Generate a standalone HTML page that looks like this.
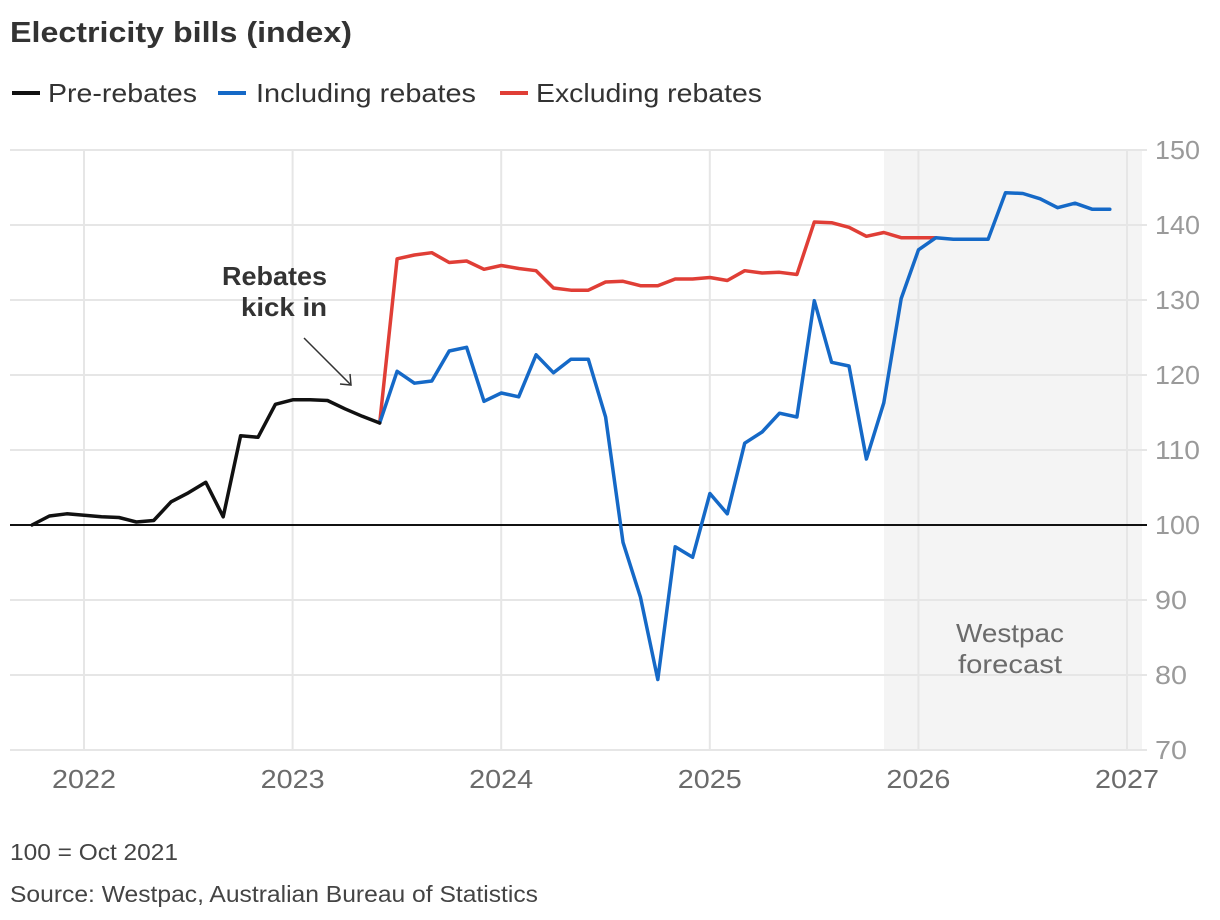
<!DOCTYPE html>
<html><head><meta charset="utf-8">
<style>
body{margin:0;background:#fff;width:1220px;height:920px;overflow:hidden;font-family:"Liberation Sans",sans-serif}
svg{display:block}
</style></head>
<body>
<svg id="chart" width="1220" height="920" viewBox="0 0 1220 920" xmlns="http://www.w3.org/2000/svg">
<text x="10" y="42" font-size="29" font-weight="bold" fill="#333" textLength="342" lengthAdjust="spacingAndGlyphs">Electricity bills (index)</text>
<g font-size="26" fill="#333">
 <g><line x1="12" y1="93" x2="40" y2="93" stroke="#111" stroke-width="4"/><text x="48" y="102" textLength="149" lengthAdjust="spacingAndGlyphs">Pre-rebates</text></g>
 <g><line x1="218" y1="93" x2="246" y2="93" stroke="#1569c7" stroke-width="4"/><text x="256" y="102" textLength="220" lengthAdjust="spacingAndGlyphs">Including rebates</text></g>
 <g><line x1="500" y1="93" x2="528" y2="93" stroke="#e03e36" stroke-width="4"/><text x="536" y="102" textLength="226" lengthAdjust="spacingAndGlyphs">Excluding rebates</text></g>
</g>
<rect x="884" y="150" width="258" height="600" fill="#f4f4f4"/>
<g id="grid"></g>
<g id="axes"></g>
<g font-size="26" fill="#6b6b6b">
 <text x="956" y="642" textLength="108" lengthAdjust="spacingAndGlyphs">Westpac</text>
 <text x="958" y="673" textLength="104" lengthAdjust="spacingAndGlyphs">forecast</text>
</g>
<g id="series"></g>
<g font-size="26" font-weight="bold" fill="#333">
 <text x="222" y="285" textLength="105" lengthAdjust="spacingAndGlyphs">Rebates</text>
 <text x="241" y="316" textLength="86" lengthAdjust="spacingAndGlyphs">kick in</text>
 <line x1="304" y1="338" x2="350" y2="384" stroke="#333" stroke-width="1.5"/>
 <polyline points="340,384 351,385 350,374" fill="none" stroke="#333" stroke-width="1.5"/>
</g>
<text x="10" y="860" font-size="23" fill="#444" textLength="168" lengthAdjust="spacingAndGlyphs">100 = Oct 2021</text>
<text x="10" y="902" font-size="23" fill="#444" textLength="528" lengthAdjust="spacingAndGlyphs">Source: Westpac, Australian Bureau of Statistics</text>
</svg>
<script>
// monthly data starting Oct 2021
const yTicks = [70,80,90,100,110,120,130,140,150];
const xTickLabels = ["2022","2023","2024","2025","2026","2027"];
const preRebates = [100,101.2,101.5,101.3,101.1,101.0,100.4,100.6,103.1,104.3,105.7,101.1,111.9,111.7,116.1,116.7,116.7,116.6,115.5,114.5,113.6];
const includingRebates = [113.6,120.5,118.9,119.2,123.2,123.7,116.5,117.6,117.1,122.7,120.3,122.1,122.1,114.4,97.7,90.4,79.4,97.1,95.7,104.2,101.5,110.9,112.4,114.9,114.4,129.9,121.7,121.2,108.8,116.3,130.2,136.7,138.3,138.1,138.1,138.1,144.3,144.2,143.5,142.3,142.9,142.1,142.1];
const excludingRebates = [113.6,135.5,136.0,136.3,135.0,135.2,134.1,134.6,134.2,133.9,131.6,131.3,131.3,132.4,132.5,131.9,131.9,132.8,132.8,133.0,132.6,133.9,133.6,133.7,133.4,140.4,140.3,139.7,138.5,139.0,138.3,138.3,138.3];
const preStart = 0, rebStart = 20; // month offsets from Oct 2021

const NS="http://www.w3.org/2000/svg";
const x0=32, mw=(1127-84)/60;
const xM = m => x0 + m*mw;
const xYear = i => 84 + i*12*mw;
const yV = v => 150 + (150 - v)*7.5;
function mk(tag, attrs, parent){const e=document.createElementNS(NS,tag);for(const k in attrs)e.setAttribute(k,attrs[k]);parent.appendChild(e);return e;}
const grid=document.getElementById('grid'), axes=document.getElementById('axes'), series=document.getElementById('series');
yTicks.forEach(v=>{
  const l=mk('line',{x1:10,x2:1147,y1:yV(v),y2:yV(v),stroke:'#e6e6e6','stroke-width':2},grid);
  
  
  const w = String(v).length===3 ? 45 : 32;
  const t=mk('text',{x:1155,y:yV(v)+9,'font-size':26,fill:'#9a9a9a',textLength:w,lengthAdjust:'spacingAndGlyphs'},axes);
  t.textContent=v;
  
  
});
xTickLabels.forEach((lab,i)=>{
  const l=mk('line',{x1:xYear(i),x2:xYear(i),y1:150,y2:750,stroke:'#e6e6e6','stroke-width':2},grid);
  
  
  const t=mk('text',{x:xYear(i)-32,y:788,'font-size':26,fill:'#6b6b6b',textLength:64,lengthAdjust:'spacingAndGlyphs'},axes);
  t.textContent=lab;
  
  
});
const base=mk('line',{x1:10,x2:1147,y1:yV(100),y2:yV(100),stroke:'#111','stroke-width':2},axes);


function line(arr,start,color,name){
  const pts=arr.map((v,i)=>xM(start+i).toFixed(1)+','+yV(v).toFixed(1)).join(' ');
  const p=mk('polyline',{points:pts,fill:'none',stroke:color,'stroke-width':3.5,'stroke-linejoin':'round','stroke-linecap':'round'},series);
  
  
}
line(excludingRebates,rebStart,'#e03e36','line-excluding-rebates');
line(includingRebates,rebStart,'#1569c7','line-including-rebates');
line(preRebates,preStart,'#111','line-pre-rebates');
</script>
</body></html>
